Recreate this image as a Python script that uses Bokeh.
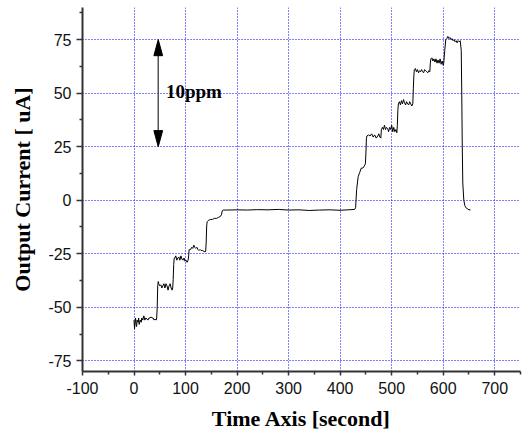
from bokeh.plotting import figure
from bokeh.models import Range1d, FixedTicker, ColumnDataSource
from bokeh.embed import file_html
from bokeh.resources import INLINE
from bokeh.core.properties import value

# ---- data ----
time_s = [0, 1, 2, 3, 4, 5, 6, 8, 9, 10, 12, 14, 15, 17, 19, 21, 23, 25, 27, 29, 31, 33, 35, 37, 39, 41, 43, 44,
          45, 46, 47,
          48, 50, 52, 54, 56, 58, 60, 62, 64, 66, 68, 70, 72, 74, 75, 76,
          77, 78, 79, 81, 83, 85, 87, 89, 91, 93, 95, 97, 99, 101, 103, 105, 106,
          107, 108, 110, 112, 114, 116, 118, 120, 122, 124, 126, 128, 130, 133, 136, 139,
          140, 141, 142, 144, 148, 152, 156, 160, 164, 168, 170, 171, 173,
          180, 200, 220, 240, 260, 280, 300, 320, 340, 360, 380, 400, 415, 428,
          430, 432, 435, 438, 441, 444, 447, 449, 450, 451,
          452, 455, 458, 461, 464, 467, 470, 473, 475, 477, 479,
          480, 482, 484, 486, 488, 490, 492, 494, 496, 498, 500, 502, 504, 506, 508, 510, 511, 512, 513,
          515, 517, 519, 521, 523, 525, 527, 529, 531, 533, 535, 537, 539, 541, 542, 543, 544,
          546, 548, 550, 552, 554, 556, 558, 560, 562, 564, 566, 568, 570, 572, 574, 575, 576,
          578, 580, 582, 584, 586, 588, 590, 592, 594, 596, 598, 600, 601, 603, 605,
          607, 609, 611, 613, 615, 617, 619, 621, 623, 625, 627, 629, 631, 633, 635, 636, 637, 638, 640,
          642, 644, 647, 650, 653]
current_uA = [-56, -60, -57, -55, -58, -59, -56, -57, -55, -58, -56, -57, -55, -56, -54, -56, -55, -55.5, -56, -55, -55, -54.5, -55, -55, -56, -55.5, -56, -55,
              -50, -40, -38,
              -39, -40, -39.5, -41, -40, -39, -41, -39, -40, -42, -40, -39, -41, -42, -41, -37,
              -30, -27, -27, -26, -28, -27, -26.5, -28, -26, -27.5, -28, -27, -28.5, -28, -29, -28, -26,
              -23, -23, -23, -22, -22.5, -21, -22, -22.5, -22, -23, -23.5, -23, -23.5, -23.5, -24, -24,
              -20, -12, -10, -9.5, -9, -9, -8.5, -8.5, -8, -7.5, -6.5, -5, -4.6,
              -4.6, -4.5, -4.6, -4.4, -4.5, -4.3, -4.6, -4.5, -4.8, -4.6, -4.5, -4.7, -4.5, -4.3,
              -3.5, 5, 11, 13, 15, 15, 16, 17, 22, 29,
              30, 30.5, 30, 31, 29.5, 30.5, 29, 30, 31, 29.5, 29,
              33, 34, 33, 35, 33, 34, 33.5, 32, 34, 33, 35, 32, 34, 32, 33, 31.5, 35, 42, 45,
              46, 44.5, 46.5, 45, 47, 45.5, 44.5, 46, 45, 44.5, 46, 45, 44, 45, 52, 58, 61,
              61.5, 60, 61, 59.5, 60.5, 60, 61, 60, 59.5, 61, 60.5, 60, 59.5, 60.5, 60, 64, 66,
              66.5, 65, 66, 64.5, 66, 64, 65.5, 64, 66, 63.5, 65, 63, 64, 70, 75,
              75.5, 76.5, 75.5, 76, 75, 75.5, 74.5, 75, 74, 74.5, 73.5, 74.5, 74, 74.5, 70, 50, 25, 8, 0,
              -2.5, -3.5, -4, -4.5, -4.5]

x_ticks = [-100, 0, 100, 200, 300, 400, 500, 600, 700]
x_minor = [-50, 50, 150, 250, 350, 450, 550, 650, 750]
y_ticks = [-75, -50, -25, 0, 25, 50, 75]
y_minor = [-62.5, -37.5, -12.5, 12.5, 37.5, 62.5, 87.5]

arrow_x = 47
arrow_top = 75
arrow_bottom = 25
arrow_label = "10ppm"
label_x = 62
label_y = 51

x_title = "Time Axis [second]"
y_title = "Output Current [ uA]"

# ---- figure ----
p = figure(width=523, height=434, output_backend="svg", toolbar_location=None,
           x_range=Range1d(-100, 750), y_range=Range1d(-80, 90),
           min_border_left=82, min_border_right=3, min_border_top=7, min_border_bottom=63)
p.outline_line_color = None
p.background_fill_color = "white"
p.border_fill_color = "white"

# grid
p.xgrid.ticker = FixedTicker(ticks=x_ticks[1:])
p.ygrid.ticker = FixedTicker(ticks=y_ticks)
for g in (p.xgrid, p.ygrid):
    g.grid_line_color = "#0000ff"
    g.grid_line_dash = "1 2"
    g.grid_line_width = 1
    g.grid_line_alpha = 1.0

# axes
p.xaxis.ticker = FixedTicker(ticks=x_ticks, minor_ticks=x_minor)
p.yaxis.ticker = FixedTicker(ticks=y_ticks, minor_ticks=y_minor)
p.xaxis.major_label_overrides = {t: str(t) for t in x_ticks}
p.yaxis.major_label_overrides = {t: str(t) for t in y_ticks}
for ax in (p.xaxis, p.yaxis):
    ax.axis_line_color = "#333333"
    ax.axis_line_width = 2
    ax.major_tick_line_color = "#333333"
    ax.minor_tick_line_color = "#333333"
    ax.major_tick_line_width = 1.5
    ax.minor_tick_line_width = 1.5
    ax.major_tick_in = 0
    ax.minor_tick_in = 0
    ax.major_label_text_font = "Liberation Sans"
    ax.major_label_text_font_size = "16px"
    ax.major_label_text_color = "#111111"
    ax.axis_label_text_font = "Liberation Serif"
    ax.axis_label_text_font_style = "bold"
    ax.axis_label_text_font_size = "22px"
    ax.axis_label_text_color = "black"

p.xaxis.major_tick_out = 4
p.xaxis.minor_tick_out = 3
p.yaxis.major_tick_out = 6
p.yaxis.minor_tick_out = 3
p.xaxis.major_label_standoff = 6
p.yaxis.major_label_standoff = 5
p.xaxis.axis_label = x_title
p.yaxis.axis_label = y_title
p.xaxis.axis_label_standoff = 9
p.yaxis.axis_label_standoff = 10

# data trace
src = ColumnDataSource(data=dict(t=time_s, y=current_uA))
p.line("t", "y", source=src, line_color="black", line_width=1)

# double arrow annotation
head_len = 7.5       # data units (y)
head_half = 8.5      # data units (x)
p.segment(x0=[arrow_x], y0=[arrow_bottom + head_len], x1=[arrow_x], y1=[arrow_top - head_len],
          line_color="#555555", line_width=1.5)
p.patches(xs=[[arrow_x - head_half, arrow_x, arrow_x + head_half],
              [arrow_x - head_half, arrow_x, arrow_x + head_half]],
          ys=[[arrow_top - head_len, arrow_top, arrow_top - head_len],
              [arrow_bottom + head_len, arrow_bottom, arrow_bottom + head_len]],
          fill_color="black", line_color="black", line_width=1)
p.text(x=[label_x], y=[label_y], text=[arrow_label], text_font=value("Liberation Serif"),
       text_font_style="bold", text_font_size="19px", text_color="black",
       text_baseline="alphabetic", text_align="left")

open("out.html", "w").write(file_html(p, INLINE))
